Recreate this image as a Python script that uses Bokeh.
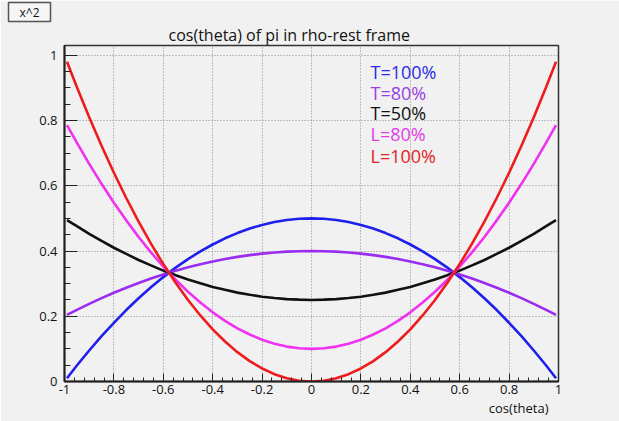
from bokeh.plotting import figure
from bokeh.models import Range1d, FixedTicker, Label, Title
from bokeh.embed import file_html
from bokeh.resources import INLINE

# ---- data ----
cos_theta = [-0.99, -0.95, -0.9, -0.85, -0.8, -0.75, -0.7, -0.65, -0.6, -0.55,
             -0.5, -0.45, -0.4, -0.35, -0.3, -0.25, -0.2, -0.15, -0.1, -0.05, 0.0,
             0.05, 0.1, 0.15, 0.2, 0.25, 0.3, 0.35, 0.4, 0.45, 0.5,
             0.55, 0.6, 0.65, 0.7, 0.75, 0.8, 0.85, 0.9, 0.95, 0.99]
t100 = [0.01, 0.049, 0.095, 0.139, 0.18, 0.219, 0.255, 0.289, 0.32, 0.349,
        0.375, 0.399, 0.42, 0.439, 0.455, 0.469, 0.48, 0.489, 0.495, 0.499, 0.5,
        0.499, 0.495, 0.489, 0.48, 0.469, 0.455, 0.439, 0.42, 0.399, 0.375,
        0.349, 0.32, 0.289, 0.255, 0.219, 0.18, 0.139, 0.095, 0.049, 0.01]
t80 = [0.204, 0.2195, 0.238, 0.2555, 0.272, 0.2875, 0.302, 0.3155, 0.328, 0.3395,
       0.35, 0.3595, 0.368, 0.3755, 0.382, 0.3875, 0.392, 0.3955, 0.398, 0.3995, 0.4,
       0.3995, 0.398, 0.3955, 0.392, 0.3875, 0.382, 0.3755, 0.368, 0.3595, 0.35,
       0.3395, 0.328, 0.3155, 0.302, 0.2875, 0.272, 0.2555, 0.238, 0.2195, 0.204]
t50 = [0.495, 0.476, 0.4525, 0.431, 0.41, 0.391, 0.3725, 0.356, 0.34, 0.326,
       0.3125, 0.301, 0.29, 0.281, 0.2725, 0.266, 0.26, 0.256, 0.2525, 0.251, 0.25,
       0.251, 0.2525, 0.256, 0.26, 0.266, 0.2725, 0.281, 0.29, 0.301, 0.3125,
       0.326, 0.34, 0.356, 0.3725, 0.391, 0.41, 0.431, 0.4525, 0.476, 0.495]
l80 = [0.786, 0.732, 0.667, 0.606, 0.548, 0.494, 0.443, 0.396, 0.352, 0.312,
       0.275, 0.242, 0.212, 0.186, 0.163, 0.144, 0.128, 0.116, 0.107, 0.102, 0.1,
       0.102, 0.107, 0.116, 0.128, 0.144, 0.163, 0.186, 0.212, 0.242, 0.275,
       0.312, 0.352, 0.396, 0.443, 0.494, 0.548, 0.606, 0.667, 0.732, 0.786]
l100 = [0.98, 0.9025, 0.81, 0.7225, 0.64, 0.5625, 0.49, 0.4225, 0.36, 0.3025,
        0.25, 0.2025, 0.16, 0.1225, 0.09, 0.0625, 0.04, 0.0225, 0.01, 0.0025, 0.0,
        0.0025, 0.01, 0.0225, 0.04, 0.0625, 0.09, 0.1225, 0.16, 0.2025, 0.25,
        0.3025, 0.36, 0.4225, 0.49, 0.5625, 0.64, 0.7225, 0.81, 0.9025, 0.98]

series_names = ["T=100%", "T=80%", "T=50%", "L=80%", "L=100%"]
series_values = [t100, t80, t50, l80, l100]
series_colors = ["#1f1fee", "#9a2cf0", "#111111", "#f032f0", "#ee1c1c"]
label_colors = ["#2b2be6", "#9a3ee6", "#111111", "#e23ee6", "#e02424"]
label_y = [0.948, 0.883, 0.822, 0.758, 0.690]

x_major = [-1.0, -0.8, -0.6, -0.4, -0.2, 0.0, 0.2, 0.4, 0.6, 0.8, 1.0]
x_labels = ["-1", "-0.8", "-0.6", "-0.4", "-0.2", "0", "0.2", "0.4", "0.6", "0.8", "1"]
x_minor = [round(-1 + 0.04 * i, 2) for i in range(51)]
y_major = [0.0, 0.2, 0.4, 0.6, 0.8, 1.0]
y_labels = ["0", "0.2", "0.4", "0.6", "0.8", "1"]
y_minor = [round(0.05 * i, 2) for i in range(21)]

TITLE = "cos(theta) of pi in rho-rest frame"
X_TITLE = "cos(theta)"
BOX_TEXT = "x^2"

FONT = "Open Sans"
BG = "#f1f1f1"

p = figure(width=619, height=421, output_backend="svg", toolbar_location=None,
           title=None,
           x_range=Range1d(-1, 1), y_range=Range1d(0, 1.03),
           min_border_left=64, min_border_right=61, min_border_top=45,
           min_border_bottom=40)
p.background_fill_color = BG
p.border_fill_color = BG
p.outline_line_color = "#333333"
p.outline_line_width = 1.5

# main title (nearest the frame)
p.add_layout(Title(text=TITLE, align="left", offset=104, text_font=FONT,
                   text_font_size="16px", text_font_style="normal",
                   text_color="#111111", standoff=0), "above")
# "x^2" box (outermost)
p.add_layout(Title(text=BOX_TEXT, align="left", offset=-56, text_font=FONT,
                   text_font_size="12px", text_font_style="normal",
                   text_color="#111111", background_fill_color="#f6f6f6",
                   border_line_color="#555555", border_line_width=1.5,
                   padding=(11, 1), standoff=0), "above")

# axis title (below the x axis, right aligned)
p.add_layout(Title(text=X_TITLE, align="right", offset=10, text_font=FONT,
                   text_font_size="13px", text_font_style="normal",
                   text_color="#111111", standoff=0), "below")

p.xaxis.ticker = FixedTicker(ticks=x_major, minor_ticks=x_minor)
p.yaxis.ticker = FixedTicker(ticks=y_major, minor_ticks=y_minor)
p.xaxis.major_label_overrides = {v: s for v, s in zip(x_major, x_labels)}
p.yaxis.major_label_overrides = {v: s for v, s in zip(y_major, y_labels)}

for ax in (p.xaxis, p.yaxis):
    ax.axis_line_color = "#222222"
    ax.axis_line_width = 2
    ax.major_tick_line_color = "#222222"
    ax.minor_tick_line_color = "#222222"
    ax.major_tick_out = 0
    ax.minor_tick_out = 0
    ax.major_label_text_font = FONT
    ax.major_label_text_font_size = "13px"
    ax.major_label_text_color = "#111111"
p.xaxis.major_label_standoff = 3
p.yaxis.major_label_standoff = 7
p.xaxis.major_tick_in = 8
p.xaxis.minor_tick_in = 4
p.yaxis.major_tick_in = 13
p.yaxis.minor_tick_in = 6

p.grid.grid_line_color = "#8a8a8a"
p.grid.grid_line_dash = "1 2"
p.grid.grid_line_width = 1
p.xgrid.ticker = FixedTicker(ticks=x_major)
p.ygrid.ticker = FixedTicker(ticks=y_major)

for vals, col in zip(series_values, series_colors):
    p.line(cos_theta, vals, line_color=col, line_width=2.6)

for name, col, yy in zip(series_names, label_colors, label_y):
    p.add_layout(Label(x=0.239, y=yy, text=name, text_color=col,
                       text_font=FONT, text_font_size="18px",
                       text_baseline="middle", text_align="left"))

open("out.html", "w").write(file_html(p, INLINE))
